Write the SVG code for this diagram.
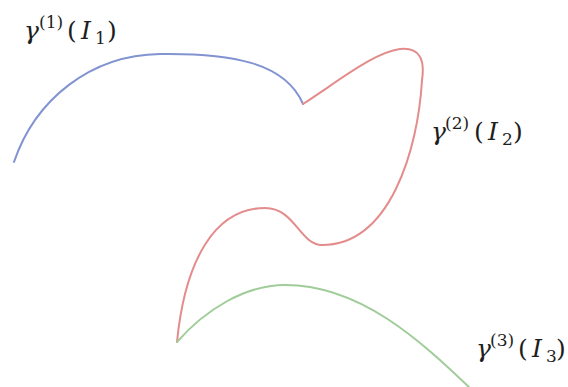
<svg xmlns="http://www.w3.org/2000/svg" width="568" height="387" viewBox="0 0 568 387">
<style>
.curve{fill:none;stroke-width:2;stroke-linecap:round;stroke-linejoin:round}
.lbl{font-family:"DejaVu Serif","Liberation Serif",serif;font-size:25px;fill:#1e1e1e}
.it{font-style:italic}
.sm{font-size:17px}
</style>
<rect width="568" height="387" fill="#ffffff"/>
<g id="curves">
<path id="gamma1" class="curve" stroke="#8293d2" d="M14,162 C35,100 90,55 160,54 C230,53 285,62 303,104"/>
<path id="gamma2" class="curve" stroke="#e48c8c" d="M303,104 C340,80 375,52 400,49 C420,47 425,60 422,80 C418,150 390,245 322,245 C300,245 295,208 265,208 C215,208 185,260 177,342"/>
<path id="gamma3" class="curve" stroke="#9fcc98" d="M177,342 C205,310 245,285 285,285 C360,285 420,340 472,390"/>
</g>
<g id="label1">
<text class="lbl" y="39"><tspan x="24" class="it">γ</tspan><tspan x="39" dy="-11" class="sm">(1)</tspan><tspan x="67" dy="11">(</tspan><tspan x="81" class="it">I</tspan><tspan x="95" dy="5" class="sm">1</tspan><tspan x="107" dy="-5">)</tspan></text>
</g>
<g id="label2">
<text class="lbl" y="140"><tspan x="431" class="it">γ</tspan><tspan x="445" dy="-11" class="sm">(2)</tspan><tspan x="474" dy="11">(</tspan><tspan x="488" class="it">I</tspan><tspan x="502" dy="5" class="sm">2</tspan><tspan x="513" dy="-5">)</tspan></text>
</g>
<g id="label3">
<text class="lbl" y="357"><tspan x="476" class="it">γ</tspan><tspan x="490" dy="-11" class="sm">(3)</tspan><tspan x="518" dy="11">(</tspan><tspan x="532" class="it">I</tspan><tspan x="546" dy="5" class="sm">3</tspan><tspan x="556" dy="-5">)</tspan></text>
</g>
</svg>
